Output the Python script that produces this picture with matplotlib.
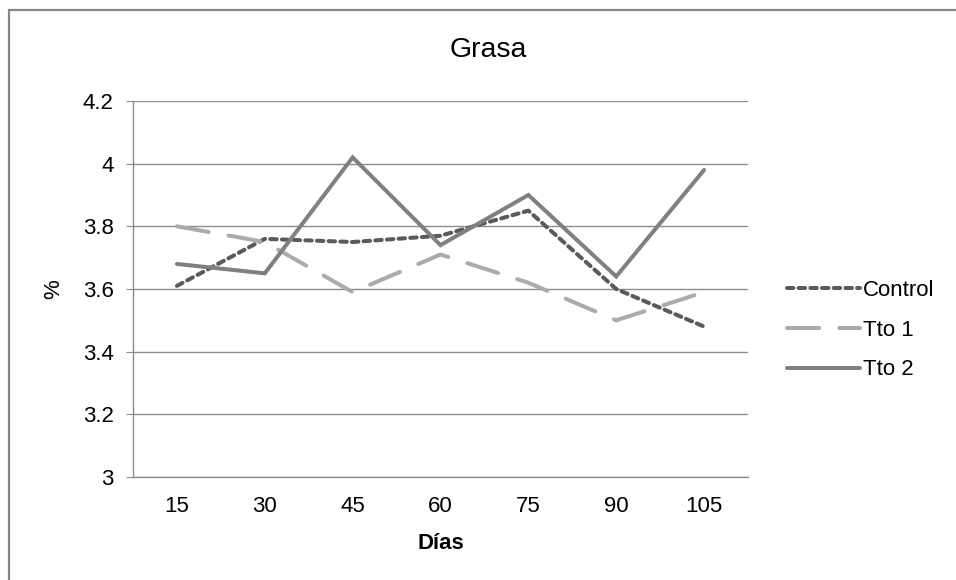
import matplotlib.pyplot as plt
from matplotlib.patches import Rectangle

plt.rcParams['font.family'] = ['Liberation Sans', 'DejaVu Sans']

dias = ['15', '30', '45', '60', '75', '90', '105']
control = [3.61, 3.76, 3.75, 3.77, 3.85, 3.60, 3.48]
tto1 = [3.80, 3.75, 3.59, 3.71, 3.62, 3.50, 3.59]
tto2 = [3.68, 3.65, 4.02, 3.74, 3.90, 3.64, 3.98]
yticks = [3, 3.2, 3.4, 3.6, 3.8, 4, 4.2]
ytick_labels = ['3', '3.2', '3.4', '3.6', '3.8', '4', '4.2']

fig = plt.figure(figsize=(9.56, 5.8), dpi=100)
ax = fig.add_axes([133 / 956, 1 - 477 / 580, 615 / 956, 376 / 580])

# chart border (only left and top edges fall inside the image)
fig.patches.append(Rectangle((9 / 956, -0.1), 1.2, 1 - 10 / 580 + 0.1,
                             transform=fig.transFigure, fill=False,
                             edgecolor='#868686', linewidth=1.6))

x = range(len(dias))
ax.plot(x, control, color='#5a5a5a', lw=2.9, linestyle=(0, (1.6, 1.3)),
        dash_capstyle='round', label='Control', zorder=3)
ax.plot(x, tto1, color='#ababab', lw=2.9, linestyle=(0, (8, 5)),
        dash_capstyle='round', label='Tto 1', zorder=3)
ax.plot(x, tto2, color='#808080', lw=2.9, solid_capstyle='round',
        solid_joinstyle='miter', label='Tto 2', zorder=3)

ax.set_xlim(-0.5, len(dias) - 0.5)
ax.set_ylim(3, 4.2)
ax.set_xticks(list(x))
ax.set_xticklabels(dias)
ax.set_yticks(yticks)
ax.set_yticklabels(ytick_labels)
ax.grid(axis='y', color='#8c8c8c', linewidth=1)
ax.set_axisbelow(True)

for side in ['top', 'right']:
    ax.spines[side].set_visible(False)
for side in ['left', 'bottom']:
    ax.spines[side].set_color('#8c8c8c')
    ax.spines[side].set_linewidth(1)

ax.tick_params(axis='y', length=5, color='#8c8c8c', labelsize=16, pad=9)
ax.tick_params(axis='x', length=0, labelsize=16, pad=14)

ax.set_xlabel('Días', fontsize=16, fontweight='bold', labelpad=11)
ax.set_ylabel('%', fontsize=16, labelpad=13)

fig.text(488 / 956, 1 - 50 / 580, 'Grasa', fontsize=20.5, ha='center', va='center')

leg = ax.legend(loc='center left', bbox_to_anchor=(787 / 956, 1 - 330 / 580),
                bbox_transform=fig.transFigure, frameon=False, fontsize=16,
                handlelength=3.3, handletextpad=0.1, labelspacing=0.85,
                borderaxespad=0, borderpad=0)

fig.savefig('out.png', dpi=100)
